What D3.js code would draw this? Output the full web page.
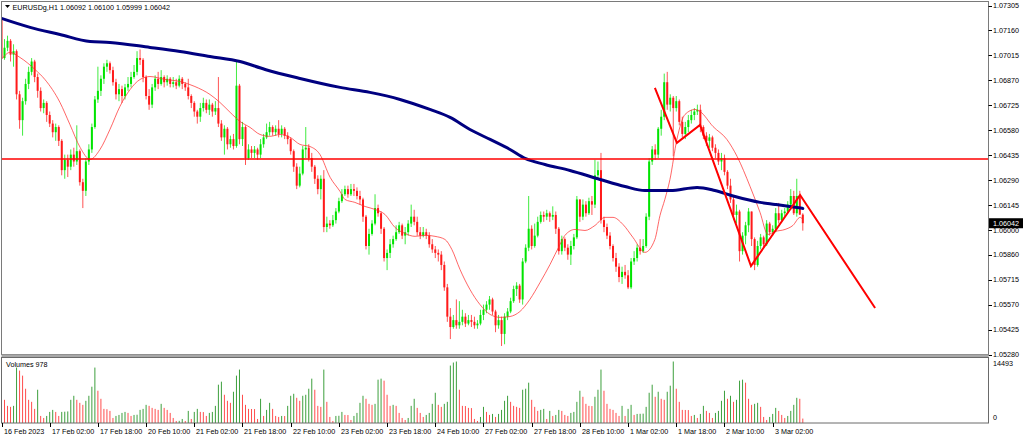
<!DOCTYPE html>
<html>
<head>
<meta charset="utf-8">
<script src="https://cdn.jsdelivr.net/npm/d3@7"></script>
<style>
  html, body { margin: 0; padding: 0; background: #fff; overflow: hidden; }
  svg text { font-family: "Liberation Sans", Arial, sans-serif; font-size: 7.2px; fill: #000; }
</style>
</head>
<body>
<div id="chart"></div>
<script>
// ---------------- DATA ----------------
const symbol = "EURUSDg,H1";
const firstOpen = 1.0722;

// hourly closes, bar 0 = 16 Feb 10:00, last bar = 3 Mar 12:00
const closes = [
  1.0700,1.0706,1.0710,1.0702,1.0704,1.0679,1.0664,1.0675,1.0685,1.0692,
  1.0698,1.0689,1.0681,1.0671,1.0674,1.0667,1.0662,1.0657,1.0660,1.0652,
  1.0635,1.0641,1.0637,1.0644,1.0640,1.0646,1.0628,1.0623,1.0640,1.0647,
  1.0660,1.0676,1.0681,1.0688,1.0695,1.0697,1.0693,1.0686,1.0679,1.0682,
  1.0678,1.0683,1.0685,1.0689,1.0692,1.0700,1.0699,1.0689,1.0678,1.0673,
  1.0683,1.0688,1.0685,1.0689,1.0686,1.0688,1.0685,1.0686,1.0684,1.0688,
  1.0685,1.0683,1.0678,1.0674,1.0669,1.0666,1.0671,1.0674,1.0670,1.0673,
  1.0669,1.0671,1.0662,1.0654,1.0659,1.0650,1.0653,1.0649,1.0684,1.0653,
  1.0660,1.0642,1.0647,1.0645,1.0647,1.0644,1.0650,1.0654,1.0657,1.0660,
  1.0657,1.0659,1.0656,1.0659,1.0655,1.0653,1.0646,1.0637,1.0626,1.0633,
  1.0647,1.0648,1.0642,1.0637,1.0630,1.0624,1.0630,1.0602,1.0604,1.0603,
  1.0606,1.0611,1.0617,1.0621,1.0624,1.0621,1.0624,1.0623,1.0620,1.0618,
  1.0608,1.0591,1.0598,1.0604,1.0613,1.0610,1.0601,1.0584,1.0587,1.0592,
  1.0595,1.0599,1.0603,1.0597,1.0599,1.0604,1.0608,1.0605,1.0599,1.0597,
  1.0599,1.0597,1.0592,1.0589,1.0587,1.0586,1.0580,1.0567,1.0550,1.0544,
  1.0548,1.0545,1.0547,1.0550,1.0546,1.0548,1.0547,1.0545,1.0546,1.0551,
  1.0554,1.0557,1.0560,1.0553,1.0545,1.0548,1.0540,1.0550,1.0553,1.0559,
  1.0566,1.0568,1.0560,1.0582,1.0590,1.0601,1.0591,1.0597,1.0605,1.0609,
  1.0608,1.0610,1.0608,1.0609,1.0601,1.0588,1.0595,1.0590,1.0586,1.0591,
  1.0596,1.0618,1.0608,1.0615,1.0610,1.0617,1.0615,1.0632,1.0635,1.0606,
  1.0602,1.0597,1.0591,1.0584,1.0579,1.0573,1.0576,1.0574,1.0567,1.0582,
  1.0584,1.0590,1.0588,1.0591,1.0608,1.0640,1.0647,1.0644,1.0659,1.0666,
  1.0686,1.0673,1.0677,1.0671,1.0675,1.0663,1.0656,1.0660,1.0664,1.0667,
  1.0669,1.0670,1.0660,1.0655,1.0652,1.0654,1.0648,1.0645,1.0640,1.0642,
  1.0634,1.0626,1.0618,1.0609,1.0611,1.0588,1.0597,1.0603,1.0611,1.0595,
  1.0580,1.0591,1.0596,1.0592,1.0604,1.0599,1.0601,1.0610,1.0606,1.0610,
  1.0611,1.0615,1.0620,1.0610,1.0620,1.06092,1.06042
];

const highs = [
  1.0724,1.0711,1.0713,1.0711,1.0708,1.0705,1.0681,1.0677,1.0688,1.0695,
  1.0700,1.0699,1.0691,1.0683,1.0676,1.0675,1.0669,1.0664,1.0662,1.0661,
  1.0653,1.0644,1.0644,1.0647,1.0648,1.0661,1.0647,1.0630,1.0642,1.0650,
  1.0662,1.0678,1.0695,1.0690,1.0697,1.0699,1.0698,1.0695,1.0688,1.0685,
  1.0684,1.0685,1.0689,1.0692,1.0696,1.0704,1.0705,1.0700,1.0690,1.0682,
  1.0685,1.0690,1.0692,1.0693,1.0690,1.0690,1.0689,1.0689,1.0688,1.0690,
  1.0689,1.0686,1.0688,1.0679,1.0675,1.0670,1.0674,1.0677,1.0676,1.0676,
  1.0674,1.0675,1.0689,1.0664,1.0661,1.0660,1.0655,1.0656,1.0698,1.0685,
  1.0663,1.0661,1.0650,1.0649,1.0649,1.0648,1.0653,1.0656,1.0662,1.0663,
  1.0661,1.0661,1.0664,1.0661,1.0660,1.0657,1.0654,1.0647,1.0639,1.0637,
  1.0649,1.0660,1.0650,1.0645,1.0638,1.0632,1.0632,1.0635,1.0608,1.0606,
  1.0609,1.0613,1.0619,1.0624,1.0626,1.0626,1.0627,1.0627,1.0625,1.0623,
  1.0619,1.0609,1.0601,1.0606,1.0621,1.0615,1.0611,1.0602,1.0589,1.0595,
  1.0597,1.0603,1.0605,1.0604,1.0602,1.0606,1.0615,1.0612,1.0608,1.0602,
  1.0602,1.0601,1.0599,1.0595,1.0591,1.0589,1.0588,1.0582,1.0569,1.0555,
  1.0551,1.0560,1.0559,1.0554,1.0552,1.0551,1.0551,1.0550,1.0548,1.0554,
  1.0557,1.0559,1.0562,1.0561,1.0554,1.0551,1.0550,1.0552,1.0555,1.0561,
  1.0568,1.0570,1.0569,1.0584,1.0592,1.0620,1.0603,1.0604,1.0608,1.0611,
  1.0611,1.0612,1.0611,1.0614,1.0611,1.0602,1.0597,1.0596,1.0592,1.0594,
  1.0598,1.0620,1.0618,1.0618,1.0617,1.0619,1.0620,1.0641,1.0640,1.0645,
  1.0608,1.0604,1.0599,1.0592,1.0587,1.0581,1.0579,1.0580,1.0577,1.0584,
  1.0588,1.0592,1.0595,1.0595,1.0610,1.0642,1.0649,1.0650,1.0660,1.0670,
  1.0691,1.0692,1.0679,1.0678,1.0678,1.0676,1.0666,1.0663,1.0667,1.0670,
  1.0671,1.0673,1.0673,1.0661,1.0657,1.0656,1.0655,1.0650,1.0647,1.0645,
  1.0644,1.0635,1.0630,1.0620,1.0615,1.0612,1.0599,1.0605,1.0613,1.0610,
  1.0596,1.0594,1.0598,1.0597,1.0606,1.0605,1.0603,1.0613,1.0616,1.0612,
  1.0613,1.0617,1.0624,1.0623,1.0630,1.0623,1.06100
];

const lows = [
  1.0698,1.0699,1.0704,1.0698,1.0695,1.0676,1.0659,1.0655,1.0673,1.0682,
  1.0690,1.0686,1.0677,1.0669,1.0668,1.0663,1.0660,1.0654,1.0652,1.0649,
  1.0632,1.0630,1.0631,1.0635,1.0637,1.0638,1.0626,1.0613,1.0620,1.0638,
  1.0645,1.0659,1.0674,1.0678,1.0685,1.0692,1.0691,1.0684,1.0676,1.0675,
  1.0674,1.0676,1.0681,1.0683,1.0688,1.0690,1.0696,1.0686,1.0676,1.0670,
  1.0671,1.0681,1.0682,1.0684,1.0683,1.0684,1.0683,1.0683,1.0682,1.0683,
  1.0682,1.0681,1.0676,1.0671,1.0666,1.0662,1.0663,1.0669,1.0668,1.0667,
  1.0666,1.0667,1.0660,1.0652,1.0644,1.0647,1.0648,1.0647,1.0648,1.0650,
  1.0649,1.0638,1.0641,1.0642,1.0642,1.0641,1.0642,1.0648,1.0653,1.0655,
  1.0655,1.0655,1.0654,1.0654,1.0653,1.0650,1.0644,1.0634,1.0624,1.0625,
  1.0632,1.0642,1.0640,1.0634,1.0627,1.0621,1.0618,1.0599,1.0599,1.0601,
  1.0602,1.0604,1.0610,1.0616,1.0620,1.0619,1.0620,1.0620,1.0618,1.0615,
  1.0605,1.0589,1.0586,1.0597,1.0603,1.0608,1.0598,1.0582,1.0577,1.0584,
  1.0590,1.0594,1.0598,1.0595,1.0592,1.0597,1.0602,1.0603,1.0597,1.0595,
  1.0596,1.0595,1.0590,1.0587,1.0584,1.0582,1.0577,1.0565,1.0547,1.0537,
  1.0543,1.0543,1.0543,1.0545,1.0544,1.0545,1.0544,1.0543,1.0543,1.0545,
  1.0548,1.0552,1.0554,1.0551,1.0541,1.0543,1.0533,1.0534,1.0548,1.0552,
  1.0558,1.0562,1.0558,1.0557,1.0581,1.0588,1.0589,1.0590,1.0596,1.0604,
  1.0605,1.0606,1.0605,1.0606,1.0598,1.0586,1.0586,1.0588,1.0583,1.0580,
  1.0589,1.0595,1.0605,1.0606,1.0608,1.0609,1.0609,1.0613,1.0630,1.0604,
  1.0599,1.0595,1.0589,1.0582,1.0576,1.0570,1.0569,1.0572,1.0566,1.0566,
  1.0580,1.0582,1.0586,1.0587,1.0590,1.0606,1.0638,1.0641,1.0642,1.0655,
  1.0664,1.0670,1.0669,1.0643,1.0669,1.0661,1.0654,1.0653,1.0657,1.0662,
  1.0664,1.0667,1.0657,1.0653,1.0649,1.0648,1.0646,1.0642,1.0638,1.0635,
  1.0632,1.0624,1.0616,1.0606,1.0604,1.0582,1.0586,1.0592,1.0599,1.0591,
  1.0577,1.0579,1.0589,1.0590,1.0591,1.0597,1.0597,1.0599,1.0604,1.0605,
  1.0608,1.0610,1.0612,1.0609,1.0608,1.0609,1.05999
];

// tick volumes
const volumes = [
  6021,5129,3791,3568,3791,12265,11596,10481,7582,5129,
  4683,3122,7359,1561,1115,1561,2453,2899,2453,1561,
  2453,2500,2560,5129,6021,5129,4460,4014,4906,6021,
  8028,12265,7136,5352,3122,3050,2676,1115,1561,1784,
  2230,2453,2230,1561,1784,1830,2899,3122,4014,3791,
  3345,3122,2899,4237,3345,2899,2230,1115,446,480,
  892,446,2676,892,2453,3122,2453,2420,1561,2230,
  2453,3791,8474,9143,6244,4906,4460,6913,10481,11819,
  6244,4014,3122,3100,3080,892,5352,1561,2899,4460,
  3122,1561,1338,1561,1540,3791,6021,6467,5575,4906,
  6021,6244,7582,9812,7359,3791,3568,11819,4683,1338,
  446,1561,1600,2453,1784,1760,669,1561,2230,4460,
  6021,5352,4237,4014,4237,9589,9812,9366,6244,3791,
  4014,3791,2230,1115,669,1115,3791,5352,3345,2230,
  1338,1784,2230,4237,6690,4014,3568,4237,4683,12711,
  13380,13603,7359,3791,3750,3345,3300,892,446,1338,
  3568,2453,1784,2007,1338,2007,2899,4906,6021,4683,
  3791,3568,3345,7359,7582,8920,5129,3568,2676,2899,
  3122,892,2676,1561,1784,2899,2676,1784,1561,2230,
  2453,4683,7136,5798,4237,3791,3750,5798,7359,11819,
  7136,4237,3122,2899,2230,1561,3791,1561,3122,4014,
  1784,2007,2040,2070,3568,6690,8474,5798,6913,5352,
  5129,6913,8251,13603,7582,4683,2899,2880,2860,1561,
  1784,1115,2007,3791,2676,2230,1115,2230,2676,4906,
  7136,5352,6021,4683,5129,9366,9589,8920,5352,4014,
  4237,4460,3568,1338,669,1338,2007,3345,2676,1784,
  1115,1561,2676,4014,5575,5352,978
];
const volumeMax = 14493;

// slow moving average (thick navy line), sampled along the curve
const slowMaBars = [0,9.5,19.4,29.4,36,49.3,59.3,69.2,79.2,87.5,99.1,112.4,122.3,132.3,142.2,148.9,
  155.5,162.2,168.8,173.8,180.4,188.7,198.7,207,213.6,222,230.9,236.8,243.5,251.8,256.8,261.7,266];
const slowMaPrices = [1.07230,1.07178,1.07137,1.07096,1.07091,1.07062,1.07038,1.07009,1.06980,1.06934,
  1.06882,1.06830,1.06801,1.06760,1.06702,1.06656,1.06586,1.06528,1.06470,1.06418,1.06383,1.06348,
  1.06296,1.06255,1.06232,1.06232,1.06250,1.06232,1.06197,1.06163,1.06151,1.06139,1.06128];

// fast moving average (thin red line), sampled along the curve
const fastMaBars = [0,2.8,6.1,11.1,14.4,19.4,22.7,26.1,29.4,32.7,36,39.3,42.7,46,49.3,54.3,59.3,64.2,
  69.2,72.5,75.9,79.2,82.5,85.8,89.1,92.5,95.8,99.1,102.4,105.7,109.1,112.4,114,117.3,120.7,124,127.3,
  130.6,133.9,137.3,140.6,143.9,147.2,149.5,152.2,155.5,158.8,162.2,165.5,168.8,172.1,175.4,178.8,
  182.1,185.4,187,190.4,193.7,197,200.3,203,206.3,209.6,213.6,216.9,218.6,220.2,221.9,224.2,226.9,
  230.2,231.9,236.2,240.8,244.2,248.5,251.8,254.4,256.8,260.1,262.7,265.1,266];
const fastMaPrices = [1.06992,1.07033,1.07004,1.06934,1.06876,1.06743,1.06615,1.06482,1.06412,1.06470,
  1.06586,1.06719,1.06818,1.06876,1.06893,1.06876,1.06864,1.06835,1.06789,1.06743,1.06685,1.06632,
  1.06598,1.06557,1.06546,1.06557,1.06540,1.06499,1.06487,1.06441,1.06308,1.06226,1.06180,1.06163,
  1.06139,1.06122,1.06093,1.06018,1.05983,1.05966,1.05972,1.05966,1.05948,1.05890,1.05774,1.05658,
  1.05571,1.05513,1.05496,1.05501,1.05530,1.05600,1.05699,1.05803,1.05919,1.05971,1.06006,1.06000,
  1.06029,1.06076,1.06076,1.06035,1.05960,1.05873,1.05948,1.06087,1.06180,1.06296,1.06528,1.06673,
  1.06702,1.06690,1.06603,1.06528,1.06429,1.06255,1.06105,1.05977,1.05994,1.06006,1.06029,1.06076,1.06064];

// drawn objects
const levelPrice = 1.06415;
const zigzagBars = [216.9, 224.2, 231.9, 248.8, 265.1, 290];
const zigzagPrices = [1.06827, 1.06508, 1.06612, 1.05794, 1.06206, 1.05550];

// axis labels
const priceTicks = [1.07305,1.07160,1.07015,1.06870,1.06725,1.06580,1.06435,1.06290,1.06145,
  1.06000,1.05860,1.05715,1.05570,1.05425,1.05280];
const dateLabelBars = [0,16,32,48,64,80,96,112,128,144,160,176,192,208,224,240,256];
const dateLabels = ["16 Feb 2023","17 Feb 02:00","17 Feb 18:00","20 Feb 10:00","21 Feb 02:00",
  "21 Feb 18:00","22 Feb 10:00","23 Feb 02:00","23 Feb 18:00","24 Feb 10:00","27 Feb 02:00",
  "27 Feb 18:00","28 Feb 10:00","1 Mar 02:00","1 Mar 18:00","2 Mar 10:00","3 Mar 02:00"];

// ---------------- LAYOUT ----------------
var svgWidth = 1024, svgHeight = 439;
var main = {left: 1.5, right: 988.5, top: 1.5, bottom: 354.5};
var vol = {top: 357.5, bottom: 423};

var upColor = "#00e400", downColor = "#ff1a1a";

var svg = d3.select("#chart").append("svg")
  .attr("width", svgWidth)
  .attr("height", svgHeight);

// scales
var x = d3.scaleLinear().domain([0, 266]).range([1.5, 802.8]);
var y = d3.scaleLinear().domain([1.07305, 1.05280]).range([5.5, 354.6]);
var yVol = d3.scaleLinear().domain([0, volumeMax]).range([vol.bottom, vol.top]);

var opens = [firstOpen].concat(closes.slice(0, -1));
var bars = closes.map(function(c, i) {
  var o = opens[i];
  return {i: i, o: o, c: c, h: Math.max(highs[i], o, c), l: Math.min(lows[i], o, c)};
});

svg.append("defs").append("clipPath").attr("id", "mainClip")
  .append("rect")
  .attr("x", main.left).attr("y", main.top)
  .attr("width", main.right - main.left).attr("height", main.bottom - main.top);

// ---------------- PRICE PANEL ----------------
var plot = svg.append("g").attr("clip-path", "url(#mainClip)");

// wicks
plot.append("g").selectAll("line")
  .data(bars).enter().append("line")
  .attr("x1", d => x(d.i)).attr("x2", d => x(d.i))
  .attr("y1", d => y(d.h)).attr("y2", d => y(d.l))
  .attr("stroke", d => d.c >= d.o ? upColor : downColor)
  .attr("stroke-opacity", 0.75)
  .attr("stroke-width", 1);

// bodies
plot.append("g").selectAll("rect")
  .data(bars).enter().append("rect")
  .attr("x", d => x(d.i) - 1)
  .attr("width", 2)
  .attr("y", d => Math.min(y(d.o), y(d.c)))
  .attr("height", d => Math.max(1, Math.abs(y(d.o) - y(d.c))))
  .attr("fill", d => d.c >= d.o ? upColor : downColor);

// moving averages
var maLine = d3.line()
  .x(d => x(d[0]))
  .y(d => y(d[1]))
  .curve(d3.curveMonotoneX);

plot.append("path")
  .datum(fastMaBars.map((b, k) => [b, fastMaPrices[k]]))
  .attr("d", maLine)
  .attr("fill", "none")
  .attr("stroke", "#ff2a2a")
  .attr("stroke-opacity", 0.8)
  .attr("stroke-width", 0.9);

plot.append("path")
  .datum(slowMaBars.map((b, k) => [b, slowMaPrices[k]]))
  .attr("d", maLine)
  .attr("fill", "none")
  .attr("stroke", "#000080")
  .attr("stroke-width", 3)
  .attr("stroke-linecap", "round");

// horizontal level
plot.append("line")
  .attr("x1", main.left).attr("x2", main.right)
  .attr("y1", y(levelPrice)).attr("y2", y(levelPrice))
  .attr("stroke", "#ff0000")
  .attr("stroke-width", 1.5);

// zigzag trend lines
plot.append("path")
  .datum(zigzagBars.map((b, k) => [b, zigzagPrices[k]]))
  .attr("d", d3.line().x(d => x(d[0])).y(d => y(d[1])))
  .attr("fill", "none")
  .attr("stroke", "#ff0000")
  .attr("stroke-width", 2)
  .attr("stroke-linejoin", "miter");

// frame
svg.append("rect")
  .attr("x", main.left).attr("y", main.top)
  .attr("width", main.right - main.left).attr("height", main.bottom - main.top)
  .attr("fill", "none").attr("stroke", "#7a7a7a").attr("stroke-width", 1);

// title
svg.append("path").attr("d", "M5,5 L10,5 L7.5,8 Z").attr("fill", "#000");
var last = bars[bars.length - 1];
svg.append("text")
  .attr("x", 12.5).attr("y", 10)
  .text(symbol + "  " + [last.o, last.h, last.l, last.c].map(d3.format(".5f")).join(" "));

// price axis
var priceAxis = svg.append("g");
priceTicks.forEach(function(p) {
  priceAxis.append("line")
    .attr("x1", main.right).attr("x2", main.right + 3.5)
    .attr("y1", Math.round(y(p)) + 0.5).attr("y2", Math.round(y(p)) + 0.5)
    .attr("stroke", "#000").attr("stroke-width", 1);
  priceAxis.append("text")
    .attr("x", 993).attr("y", y(p) + 2.3)
    .text(d3.format(".5f")(p));
});

// current price marker
svg.append("rect")
  .attr("x", 989).attr("y", y(last.c) - 5)
  .attr("width", 34).attr("height", 10)
  .attr("fill", "#000");
svg.append("text")
  .attr("x", 993).attr("y", y(last.c) + 2.5)
  .style("fill", "#fff")
  .text(d3.format(".5f")(last.c));

// ---------------- VOLUME PANEL ----------------
svg.append("rect")
  .attr("x", main.left).attr("y", 354.5)
  .attr("width", main.right - main.left).attr("height", 3)
  .attr("fill", "#a8a8a8");

svg.append("g").selectAll("line")
  .data(volumes).enter().append("line")
  .attr("x1", (d, i) => x(i)).attr("x2", (d, i) => x(i))
  .attr("y1", yVol(0)).attr("y2", d => yVol(d))
  .attr("stroke", (d, i) => (i === 0 || d > volumes[i - 1]) ? "#3d9f3d" : "#ff4d4d")
  .attr("stroke-width", 1);

svg.append("rect")
  .attr("x", main.left).attr("y", vol.top)
  .attr("width", main.right - main.left).attr("height", vol.bottom - vol.top)
  .attr("fill", "none").attr("stroke", "#6a6a6a").attr("stroke-width", 1);

svg.append("text")
  .attr("x", 6).attr("y", 367)
  .text("Volumes " + volumes[volumes.length - 1]);

svg.append("text").attr("x", 993).attr("y", 366).text(volumeMax);
svg.append("text").attr("x", 993).attr("y", 420).text("0");

// ---------------- TIME AXIS ----------------
var timeAxis = svg.append("g");
dateLabelBars.forEach(function(b, k) {
  var tx = Math.round(x(b)) + 0.5;
  timeAxis.append("line")
    .attr("x1", tx).attr("x2", tx)
    .attr("y1", vol.bottom).attr("y2", vol.bottom + 4)
    .attr("stroke", "#000").attr("stroke-width", 1);
  timeAxis.append("text")
    .attr("x", tx + 1.5).attr("y", 433.5)
    .text(dateLabels[k]);
});
</script>
</body>
</html>
